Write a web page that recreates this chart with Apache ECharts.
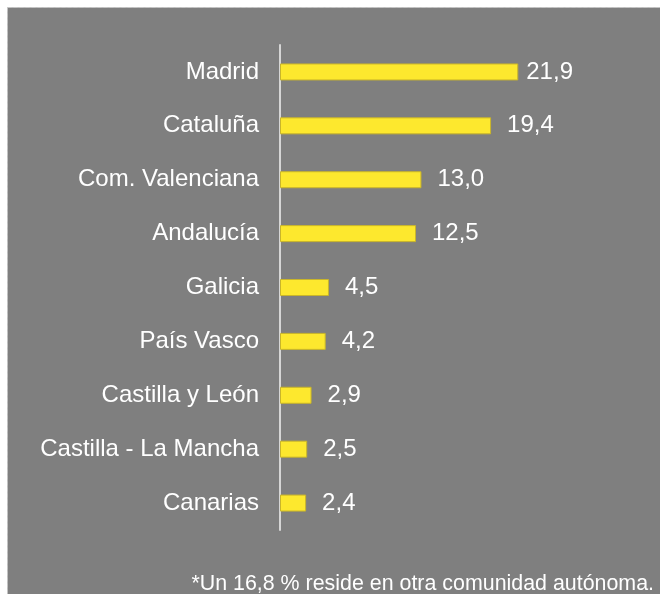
<!DOCTYPE html>
<html>
<head>
<meta charset="utf-8">
<script src="https://cdn.jsdelivr.net/npm/echarts@6/dist/echarts.min.js"></script>
<style>
  html, body { margin: 0; padding: 0; background: #ffffff; }
  #main { width: 660px; height: 594px; }
</style>
</head>
<body>
<div id="main"></div>
<script>
const regions = ['Madrid', 'Cataluña', 'Com. Valenciana', 'Andalucía', 'Galicia',
  'País Vasco', 'Castilla y León', 'Castilla - La Mancha', 'Canarias']
const shares = [21.9, 19.4, 13.0, 12.5, 4.5, 4.2, 2.9, 2.5, 2.4]
const footnote = '*Un 16,8 % reside en otra comunidad autónoma.'

const chart = echarts.init(document.getElementById('main'))

// the longest bar keeps its label closer, as in the source
const barData = shares.map((v, i) => ({
  value: v,
  label: { distance: i === 0 ? 8 : 16 }
}))

const option = {
  backgroundColor: '#ffffff',
  animation: false,
  textStyle: { fontFamily: 'Liberation Sans, Arial, sans-serif' },
  graphic: [
    {
      type: 'rect',
      z: -10,
      shape: { x: 7.5, y: 7.5, width: 700, height: 700 },
      style: { fill: '#7f7f7f', stroke: '#c4c4c4', lineWidth: 1, lineDash: [4, 2] }
    },
    {
      type: 'text',
      right: 6,
      top: 574,
      style: {
        text: footnote,
        fill: '#ffffff',
        fontSize: 21.4,
        fontFamily: 'Liberation Sans, Arial, sans-serif'
      }
    }
  ],
  grid: { left: 280, top: 45, bottom: 64, right: 108 },
  xAxis: {
    type: 'value',
    min: 0,
    max: 25,
    show: false
  },
  yAxis: {
    type: 'category',
    inverse: true,
    data: regions,
    axisLine: { show: true, lineStyle: { color: '#d6d6d6', width: 2 } },
    axisTick: { show: false },
    axisLabel: { color: '#ffffff', fontSize: 24, margin: 21 }
  },
  series: [
    {
      type: 'bar',
      data: barData,
      barWidth: 17,
      itemStyle: { color: '#fde82e', borderColor: '#c9b52a', borderWidth: 1 },
      label: {
        show: true,
        position: 'right',
        color: '#ffffff',
        fontSize: 24,
        formatter: p => p.value.toFixed(1).replace('.', ',')
      }
    }
  ]
}

chart.setOption(option)
</script>
</body>
</html>
